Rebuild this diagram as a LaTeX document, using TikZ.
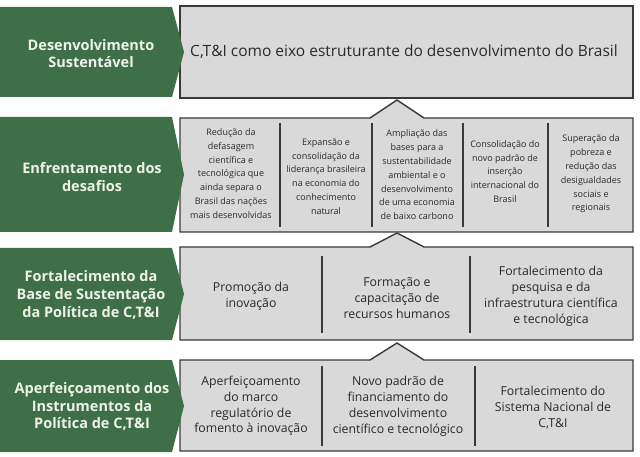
\documentclass[tikz,border=0pt]{standalone}
\usepackage{fontspec}
\setmainfont{Open Sans}
\definecolor{grn}{HTML}{3E6F47}
\definecolor{grntxt}{HTML}{EEF3E8}
\definecolor{boxfill}{HTML}{D9D9D9}
\definecolor{boxline}{HTML}{3A3A3A}
\definecolor{txt}{HTML}{2A2A2A}
\tikzset{
  greenshape/.style={fill=grn, draw=none},
  grayshape/.style={fill=boxfill, draw=boxline, line width=1.4pt, line join=miter},
  divider/.style={draw=boxline, line width=1.3pt},
  greenlabel/.style={text=grntxt, font=\bfseries\fontsize{14.5}{17.8}\selectfont, align=center, inner sep=0pt},
  toptext/.style={text=txt, font=\fontsize{15.5}{18}\selectfont, align=center, inner sep=0pt},
  smalltext/.style={text=txt, font=\fontsize{9}{13.8}\selectfont, align=center, inner sep=0pt},
  midtext/.style={text=txt, font=\fontsize{12.3}{15.8}\selectfont, align=center, inner sep=0pt},
}
\begin{document}
\begin{tikzpicture}[x=1pt,y=-1pt]
\useasboundingbox (0,0) rectangle (640,457);
% gray boxes
\path[grayshape] (180,6) rectangle (633,98);
\path[grayshape] (180,118) -- (370,118) -- (397,100) -- (424,118) -- (633,118) -- (633,232) -- (180,232) -- cycle;
\path[grayshape] (180,247) -- (370,247) -- (397,233) -- (424,247) -- (633,247) -- (633,340) -- (180,340) -- cycle;
\path[grayshape] (180,360) -- (370,360) -- (397,343) -- (424,360) -- (633,360) -- (633,451) -- (180,451) -- cycle;
% green arrows
\path[greenshape] (0,7) -- (172,7) -- (184,52) -- (172,97) -- (0,97) -- cycle;
\path[greenshape] (0,117) -- (172,117) -- (184,174.5) -- (172,232) -- (0,232) -- cycle;
\path[greenshape] (0,248) -- (172,248) -- (184,294) -- (172,340) -- (0,340) -- cycle;
\path[greenshape] (0,360) -- (172,360) -- (184,406) -- (172,452) -- (0,452) -- cycle;
% green labels
\node[greenlabel] (g1) at (91,53.5) {Desenvolvimento\\Sustentável};
\node[greenlabel] (g2) at (92,177) {Enfrentamento dos\\desafios};
\node[greenlabel] (g3) at (91,295) {Fortalecimento da\\Base de Sustentação\\da Política de C,T\&I};
\node[greenlabel] (g4) at (92,406.5) {Aperfeiçoamento dos\\Instrumentos da\\Política de C,T\&I};
% row 1
\node[toptext] (t1) at (404,52) {C,T\&I como eixo estruturante do desenvolvimento do Brasil};
% row 2 dividers
\coordinate (d21a) at (280,123); \coordinate (d21b) at (280,227);
\coordinate (d22a) at (372,123); \coordinate (d22b) at (372,227);
\coordinate (d23a) at (463,123); \coordinate (d23b) at (463,227);
\coordinate (d24a) at (548,123); \coordinate (d24b) at (548,227);
\draw[divider] (d21a) -- (d21b);
\draw[divider] (d22a) -- (d22b);
\draw[divider] (d23a) -- (d23b);
\draw[divider] (d24a) -- (d24b);
\node[smalltext] (r21) at (231,173.5) {Redução da\\defasagem\\científica e\\tecnológica que\\ainda separa o\\Brasil das nações\\mais desenvolvidas};
\node[smalltext] (r22) at (326,176.5) {Expansão e\\consolidação da\\liderança brasileira\\na economia do\\conhecimento\\natural};
\node[smalltext] (r23) at (417,175) {Ampliação das\\bases para a\\sustentabilidade\\ambiental e o\\desenvolvimento\\de uma economia\\de baixo carbono};
\node[smalltext] (r24) at (505,171.5) {Consolidação do\\novo padrão de\\inserção\\internacional do\\Brasil};
\node[smalltext] (r25) at (591,174) {Superação da\\pobreza e\\redução das\\desigualdades\\sociais e\\regionais};
% row 3
\coordinate (d31a) at (322,256); \coordinate (d31b) at (322,333);
\coordinate (d32a) at (470,256); \coordinate (d32b) at (470,333);
\draw[divider] (d31a) -- (d31b);
\draw[divider] (d32a) -- (d32b);
\node[midtext] (r31) at (251,296.5) {Promoção da\\inovação};
\node[midtext] (r32) at (397,298) {Formação e\\capacitação de\\recursos humanos};
\node[midtext] (r33) at (551,296.5) {Fortalecimento da\\pesquisa e da\\infraestrutura científica\\e tecnológica};
% row 4
\coordinate (d41a) at (322,366); \coordinate (d41b) at (322,446);
\coordinate (d42a) at (475,366); \coordinate (d42b) at (475,446);
\draw[divider] (d41a) -- (d41b);
\draw[divider] (d42a) -- (d42b);
\node[midtext] (r41) at (251,406) {Aperfeiçoamento\\do marco\\regulatório de\\fomento à inovação};
\node[midtext] (r42) at (398,406.5) {Novo padrão de\\financiamento do\\desenvolvimento\\científico e tecnológico};
\node[midtext] (r43) at (553,407.5) {Fortalecimento do\\Sistema Nacional de\\C,T\&I};
\end{tikzpicture}
\end{document}
